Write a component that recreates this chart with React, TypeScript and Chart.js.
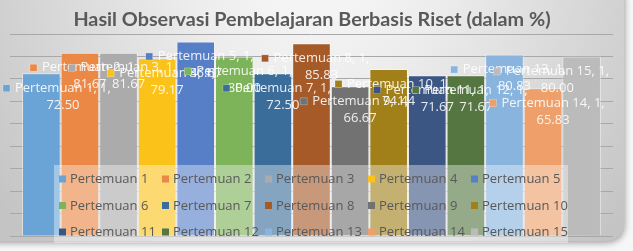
import React, { useEffect, useRef } from 'react';
import { Chart, registerables } from 'chart.js';

Chart.register(...registerables);

// ---- data ----
const categories = ['1'];
const seriesNames = [
  'Pertemuan 1', 'Pertemuan 2', 'Pertemuan 3', 'Pertemuan 4', 'Pertemuan 5',
  'Pertemuan 6', 'Pertemuan 7', 'Pertemuan 8', 'Pertemuan 9', 'Pertemuan 10',
  'Pertemuan 11', 'Pertemuan 12', 'Pertemuan 13', 'Pertemuan 14', 'Pertemuan 15',
];
const seriesValues = [72.5, 81.67, 81.67, 79.17, 86.67, 80.0, 72.5, 85.83, 66.67, 74.44, 71.67, 71.67, 80.83, 65.83, 80.0];
const seriesColors = [
  '#6AA3D6', '#EB8845', '#ABABAB', '#FBC31A', '#567FC7',
  '#7DB359', '#3B6D9A', '#A55A27', '#727272', '#A1801A',
  '#3C5684', '#557640', '#88B4DD', '#EE9F6A', '#BBBBBB',
];
const yMin = 0;
const yMax = 90;
const yStep = 10;
const titleText = 'Hasil Observasi Pembelajaran Berbasis Riset (dalam %)';

const TITLE_FONT = 'Lato, "Open Sans", sans-serif';
const FONT = '"Open Sans", Lato, sans-serif';

function roundRectPath(ctx: CanvasRenderingContext2D, x: number, y: number, w: number, h: number, r: number) {
  ctx.beginPath();
  ctx.moveTo(x + r, y);
  ctx.lineTo(x + w - r, y);
  ctx.quadraticCurveTo(x + w, y, x + w, y + r);
  ctx.lineTo(x + w, y + h - r);
  ctx.quadraticCurveTo(x + w, y + h, x + w - r, y + h);
  ctx.lineTo(x + r, y + h);
  ctx.quadraticCurveTo(x, y + h, x, y + h - r);
  ctx.lineTo(x, y + r);
  ctx.quadraticCurveTo(x, y, x + r, y);
  ctx.closePath();
}

const backgroundPlugin = {
  id: 'bgFrame',
  beforeDraw(chart: any) {
    const { ctx, width, height } = chart;
    ctx.save();
    ctx.fillStyle = '#f6f6f6';
    ctx.fillRect(0, 0, width, height);
    ctx.shadowColor = 'rgba(0,0,0,0.35)';
    ctx.shadowBlur = 6;
    ctx.shadowOffsetY = 2;
    ctx.shadowOffsetX = 1;
    const g = ctx.createRadialGradient(316, -40, 10, 316, -40, 400);
    g.addColorStop(0, '#f8f8f8');
    g.addColorStop(0.3, '#ededed');
    g.addColorStop(1, '#c4c4c4');
    ctx.fillStyle = g;
    roundRectPath(ctx, -20, -20, 644, 261, 20);
    ctx.fill();
    ctx.restore();
  },
};

const titlePlugin = {
  id: 'titleText',
  afterDraw(chart: any) {
    const { ctx } = chart;
    ctx.save();
    ctx.font = `bold 19.8px ${TITLE_FONT}`;
    ctx.fillStyle = '#595959';
    ctx.textAlign = 'center';
    ctx.textBaseline = 'alphabetic';
    ctx.fillText(titleText, 312, 26);
    ctx.restore();
  },
};

const legendPlugin = {
  id: 'overlayLegend',
  afterDatasetsDraw(chart: any) {
    const { ctx } = chart;
    ctx.save();
    ctx.fillStyle = 'rgba(255,255,255,0.38)';
    ctx.fillRect(54, 165, 514, 78);
    ctx.font = `13px ${FONT}`;
    ctx.textBaseline = 'middle';
    ctx.textAlign = 'left';
    const cols = 5;
    const colX = 59;
    const colW = 103;
    const rowY = 179;
    const rowH = 26.5;
    chart.data.datasets.forEach((ds: any, i: number) => {
      const c = i % cols;
      const r = Math.floor(i / cols);
      const x = colX + c * colW;
      const y = rowY + r * rowH;
      ctx.fillStyle = ds.backgroundColor;
      ctx.fillRect(x, y - 3.5, 7, 7);
      ctx.fillStyle = '#595959';
      ctx.fillText(ds.label, x + 11, y + 0.5);
    });
    ctx.restore();
  },
};

const dataLabelPlugin = {
  id: 'seriesLabels',
  afterDraw(chart: any) {
    const { ctx } = chart;
    ctx.save();
    ctx.font = `13px ${FONT}`;
    ctx.textBaseline = 'middle';
    chart.data.datasets.forEach((ds: any, i: number) => {
      const meta = chart.getDatasetMeta(i);
      meta.data.forEach((el: any, j: number) => {
        const line1 = `${ds.label}, ${chart.data.labels[j]},`;
        const line2 = Number(ds.data[j]).toFixed(2);
        const w = ctx.measureText(line1).width;
        let center = el.x + 10;
        let left = center - w / 2;
        if (left - 12 < 2) left = 15;
        if (left + w > 609) left = 609 - w;
        center = left + w / 2;
        const y1 = el.y + 15;
        const y2 = el.y + 32;
        ctx.fillStyle = ds.backgroundColor;
        ctx.fillRect(left - 12, y1 - 3.5, 7, 7);
        ctx.strokeStyle = 'rgba(255,255,255,0.5)';
        ctx.lineWidth = 0.5;
        ctx.strokeRect(left - 12, y1 - 3.5, 7, 7);
        ctx.fillStyle = 'rgba(255,255,255,0.88)';
        ctx.textAlign = 'left';
        ctx.fillText(line1, left, y1);
        ctx.textAlign = 'center';
        ctx.fillText(line2, center, y2);
      });
    });
    ctx.restore();
  },
};

export default function App() {
  const canvasRef = useRef<HTMLCanvasElement | null>(null);

  useEffect(() => {
    document.body.style.margin = '0';
    const canvas = canvasRef.current;
    if (!canvas) return;
    const chart = new Chart(canvas, {
      type: 'bar',
      data: {
        labels: categories,
        datasets: seriesNames.map((name, i) => ({
          label: name,
          data: [seriesValues[i]],
          backgroundColor: seriesColors[i],
          borderColor: 'rgba(255,255,255,0.45)',
          borderWidth: 1,
          categoryPercentage: 0.96,
          barPercentage: 1,
        })),
      },
      options: {
        responsive: false,
        animation: false,
        devicePixelRatio: 1,
        layout: { padding: { left: 10, right: 20, top: 34, bottom: 15 } },
        plugins: {
          legend: { display: false },
          title: { display: false },
          tooltip: { enabled: false },
        },
        scales: {
          x: { display: false },
          y: {
            min: yMin,
            max: yMax,
            ticks: { display: false, stepSize: yStep },
            grid: { color: '#a8a8a8', drawTicks: false, lineWidth: 1 },
            border: { display: false },
            afterFit: (s: any) => { s.width = 0; },
          },
        },
      },
      plugins: [backgroundPlugin, legendPlugin, dataLabelPlugin, titlePlugin],
    } as any);
    return () => chart.destroy();
  }, []);

  return (
    <div style={{ width: 633, height: 251 }}>
      <canvas ref={canvasRef} width={633} height={251} style={{ display: 'block' }} />
    </div>
  );
}
